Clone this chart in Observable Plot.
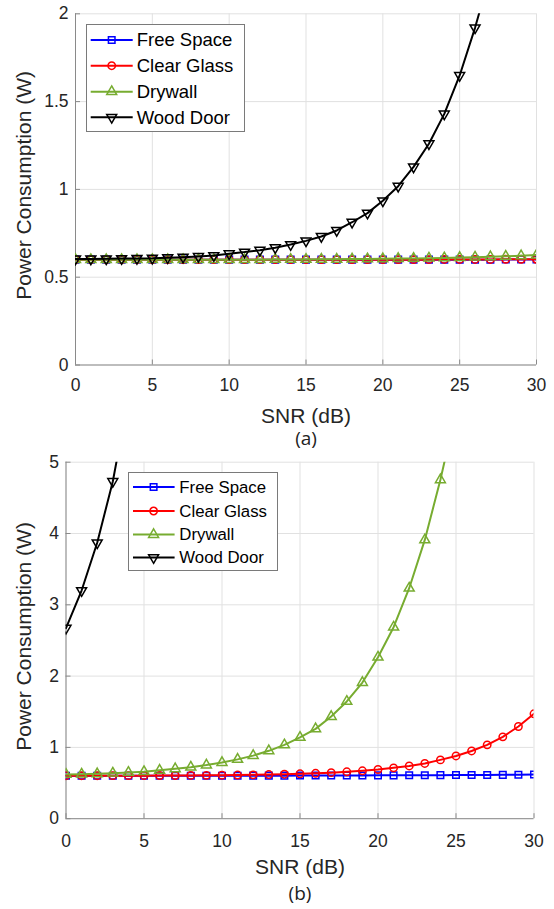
<!DOCTYPE html>
<html>
<head>
<meta charset="utf-8">
<script src="https://cdn.jsdelivr.net/npm/d3@7"></script>
<script src="https://cdn.jsdelivr.net/npm/@observablehq/plot@0.6"></script>
<style>
  body { margin: 0; background: #fff; }
  #fig { position: relative; width: 554px; height: 909px; font-family: "Liberation Sans", Arial, sans-serif; }
  .panel { position: absolute; left: 0; }
  .legend { position: absolute; }
</style>
</head>
<body>
<div id="fig"></div>
<script>
// SNR sweep (dB)
const snr = [0, 1, 2, 3, 4, 5, 6, 7, 8, 9, 10, 11, 12, 13, 14, 15, 16, 17, 18, 19, 20,
             21, 22, 23, 24, 25, 26, 27, 28, 29, 30];
const xTicks = [0, 5, 10, 15, 20, 25, 30];

const seriesNames = ["Free Space", "Clear Glass", "Drywall", "Wood Door"];
const seriesColors = ["#0000ff", "#ff0000", "#77ac30", "#000000"];

// Panel (a): power consumption (W)
const freeSpaceA = [0.600, 0.600, 0.600, 0.600, 0.600, 0.600, 0.600, 0.600, 0.600, 0.600, 0.600,
                    0.600, 0.600, 0.600, 0.600, 0.600, 0.600, 0.600, 0.600, 0.600, 0.600,
                    0.600, 0.600, 0.600, 0.600, 0.600, 0.600, 0.600, 0.601, 0.601, 0.601];
const clearGlassA = [0.600, 0.600, 0.600, 0.600, 0.600, 0.600, 0.600, 0.600, 0.600, 0.600, 0.600,
                     0.600, 0.600, 0.600, 0.600, 0.600, 0.600, 0.600, 0.600, 0.600, 0.600,
                     0.600, 0.600, 0.600, 0.601, 0.601, 0.601, 0.601, 0.602, 0.602, 0.602];
const drywallA = [0.600, 0.600, 0.600, 0.600, 0.600, 0.600, 0.600, 0.600, 0.600, 0.600, 0.600,
                  0.600, 0.600, 0.601, 0.601, 0.601, 0.602, 0.602, 0.603, 0.604, 0.605,
                  0.606, 0.607, 0.608, 0.610, 0.612, 0.614, 0.616, 0.619, 0.622, 0.626];
const woodDoorA = [0.604, 0.604, 0.605, 0.606, 0.607, 0.608, 0.611, 0.614, 0.618, 0.623, 0.634,
                   0.643, 0.654, 0.668, 0.686, 0.707, 0.732, 0.766, 0.813, 0.865, 0.935,
                   1.018, 1.128, 1.260, 1.430, 1.649, 1.920, 2.230];
const yTicksA = [0, 0.5, 1, 1.5, 2];

// Panel (b): power consumption (W)
const freeSpaceB = [0.603, 0.603, 0.603, 0.603, 0.603, 0.603, 0.603, 0.603, 0.603, 0.603, 0.603,
                    0.603, 0.604, 0.604, 0.604, 0.605, 0.605, 0.606, 0.606, 0.607, 0.608,
                    0.608, 0.609, 0.610, 0.611, 0.612, 0.613, 0.614, 0.615, 0.617, 0.619];
const clearGlassB = [0.603, 0.603, 0.603, 0.604, 0.604, 0.604, 0.605, 0.606, 0.607, 0.608, 0.610,
                     0.612, 0.615, 0.619, 0.624, 0.630, 0.637, 0.646, 0.658, 0.672, 0.690,
                     0.713, 0.740, 0.775, 0.825, 0.880, 0.950, 1.036, 1.148, 1.293, 1.471];
const drywallB = [0.620, 0.625, 0.630, 0.638, 0.648, 0.660, 0.678, 0.700, 0.722, 0.752, 0.788,
                  0.832, 0.885, 0.952, 1.035, 1.140, 1.260, 1.433, 1.644, 1.910, 2.265,
                  2.686, 3.233, 3.910, 4.753, 5.720];
const woodDoorB = [2.672, 3.200, 3.870, 4.730, 5.900];
const yTicksB = [0, 1, 2, 3, 4, 5];

// Downward-pointing triangle, centred on its centroid like d3.symbolTriangle
const sqrt3 = Math.sqrt(3);
const triangleDown = {
  draw(context, size) {
    const y = -Math.sqrt(size / (sqrt3 * 3));
    context.moveTo(0, -y * 2);
    context.lineTo(-sqrt3 * y, y);
    context.lineTo(sqrt3 * y, y);
    context.closePath();
  }
};
const seriesSymbols = [d3.symbolSquare, d3.symbolCircle, d3.symbolTriangle, triangleDown];
const markerR = 3.7;

const toRows = (values) => values.map((v, i) => ({snr: snr[i], power: v}));
const plain = (d) => String(d);

const fig = document.getElementById("fig");

function drawPanel({top, height, margins, yDomain, yTicks, values, caption, labelDx, tickPadX}) {
  const [mt, mr, mb, ml] = margins;
  const marks = [
    Plot.gridX(xTicks, {stroke: "#e1e1e1", strokeOpacity: 1}),
    Plot.gridY(yTicks, {stroke: "#e1e1e1", strokeOpacity: 1}),
    Plot.ruleX([0], {stroke: "#8a8a8a"}),
    Plot.ruleY([0], {stroke: "#8a8a8a"}),
    // tick labels
    Plot.axisX(xTicks, {tickSize: 0, tickPadding: tickPadX, tickFormat: plain, label: null, fill: "#262626"}),
    Plot.axisY(yTicks, {tickSize: 0, tickPadding: 7, tickFormat: plain, label: null, fill: "#262626"}),
    // short inward tick marks
    Plot.axisX(xTicks, {tickSize: 5, dy: -5, tickFormat: () => "", label: null, stroke: "#8a8a8a"}),
    Plot.axisY(yTicks, {tickSize: 5, dx: 5, tickFormat: () => "", label: null, stroke: "#8a8a8a"})
  ];
  values.forEach((vals, i) => {
    const rows = toRows(vals);
    marks.push(
      Plot.line(rows, {x: "snr", y: "power", stroke: seriesColors[i], strokeWidth: 2, clip: true}),
      Plot.dot(rows, {x: "snr", y: "power", symbol: seriesSymbols[i], r: markerR,
                      stroke: seriesColors[i], strokeWidth: 1.5, fill: "none", clip: true})
    );
  });
  marks.push(
    Plot.text(["Power Consumption (W)"], {text: d => d, frameAnchor: "left", textAnchor: "middle",
                                          lineAnchor: "middle", dx: labelDx, dy: -4,
                                          rotate: -90, fontSize: 21, fill: "#262626"}),
    Plot.text(["SNR (dB)"], {text: d => d, frameAnchor: "bottom", lineAnchor: "middle",
                             dy: caption.labelDy, fontSize: 21, fill: "#262626"}),
    Plot.text([caption.text], {text: d => d, frameAnchor: "bottom", lineAnchor: "middle",
                               dy: caption.dy, fontSize: 19, fontFamily: "Open Sans", fill: "#222"})
  );
  const svg = Plot.plot({
    width: 554,
    height,
    marginTop: mt, marginRight: mr, marginBottom: mb, marginLeft: ml,
    x: {domain: [0, 30]},
    y: {domain: yDomain},
    style: {fontFamily: "Liberation Sans, Arial, sans-serif", fontSize: "17.5px", color: "#262626", background: "transparent"},
    marks
  });
  svg.classList.add("panel");
  svg.style.top = top + "px";
  fig.appendChild(svg);
}

function drawLegend({left, top, width, height, rowY, lineX, markX, textX, fontSize}) {
  const svg = d3.create("svg")
    .attr("class", "legend")
    .attr("width", width)
    .attr("height", height)
    .style("left", left + "px")
    .style("top", top + "px");
  svg.append("rect")
    .attr("x", 0.5).attr("y", 0.5)
    .attr("width", width - 1).attr("height", height - 1)
    .attr("fill", "#fff").attr("stroke", "#7a7a7a");
  seriesNames.forEach((name, i) => {
    const g = svg.append("g").attr("transform", `translate(0,${rowY[i]})`);
    g.append("line")
      .attr("x1", lineX[0]).attr("x2", lineX[1])
      .attr("stroke", seriesColors[i]).attr("stroke-width", 2);
    g.append("path")
      .attr("transform", `translate(${markX},0)`)
      .attr("d", d3.symbol(seriesSymbols[i], Math.PI * markerR * markerR)())
      .attr("fill", "none").attr("stroke", seriesColors[i]).attr("stroke-width", 1.5);
    g.append("text")
      .attr("x", textX).attr("dy", "0.35em")
      .attr("font-family", "Liberation Sans, Arial, sans-serif")
      .attr("font-size", fontSize)
      .attr("fill", "#000")
      .text(name);
  });
  fig.appendChild(svg.node());
}

// (a)
drawPanel({
  top: 0, height: 450, margins: [13.3, 18, 85.5, 75],
  yDomain: [0, 2], yTicks: yTicksA,
  values: [freeSpaceA, clearGlassA, drywallA, woodDoorA],
  caption: {text: "(a)", labelDy: 51.5, dy: 73.5},
  labelDx: -51.5, tickPadX: 14
});
drawLegend({
  left: 86, top: 24, width: 159, height: 108,
  rowY: [16, 41.7, 67.7, 93.3], lineX: [4.7, 46.7], markX: 25.7, textX: 50.7, fontSize: 18.5
});

// (b)
drawPanel({
  top: 450, height: 459, margins: [11.7, 20.5, 90.8, 65.5],
  yDomain: [0, 5], yTicks: yTicksB,
  values: [freeSpaceB, clearGlassB, drywallB, woodDoorB],
  caption: {text: "(b)", labelDy: 48.5, dy: 75},
  labelDx: -42, tickPadX: 15.5
});
drawLegend({
  left: 127.7, top: 471.7, width: 150, height: 99,
  rowY: [15, 39, 62.6, 85.6], lineX: [5, 46.6], markX: 25.6, textX: 51.3, fontSize: 16.8
});
</script>
</body>
</html>
